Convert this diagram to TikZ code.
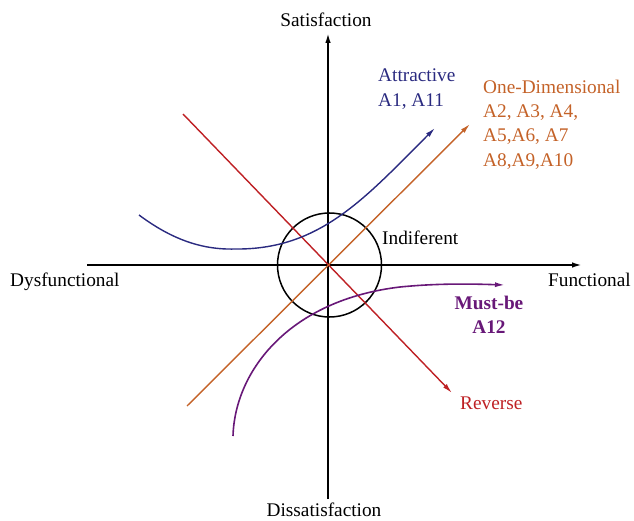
\documentclass[tikz,border=0pt]{standalone}
\usepackage{fontspec}
\setmainfont{Liberation Serif}
\usetikzlibrary{arrows.meta}
\definecolor{cnavy}{RGB}{42,42,128}
\definecolor{corange}{RGB}{196,98,40}
\definecolor{cred}{RGB}{190,32,36}
\definecolor{cpurple}{RGB}{104,24,120}
\begin{document}
\begin{tikzpicture}[x=1pt,y=-1pt,
  lbl/.style={inner sep=0pt,font=\fontsize{19.3}{24.3}\selectfont},
  axis/.style={line width=1.8pt,-{Latex[length=10pt,width=5.5pt]}},
  ray/.style={line width=1.4pt,-{Latex[length=10pt,width=5pt]}},
]
\useasboundingbox (0,0) rectangle (634,521);
% axes
\coordinate (xl) at (87,265);
\coordinate (xr) at (582,265);
\coordinate (yb) at (328,499);
\coordinate (yt) at (328,33);
\draw[axis] (xl) -- (xr);
\draw[axis] (yb) -- (yt);
% indifferent circle
\node[draw,line width=1.5pt,circle,minimum size=104pt,inner sep=0pt] (circ) at (329.5,265) {};
% reverse
\coordinate (r0) at (183,114);
\coordinate (r1) at (452,393);
\draw[ray,cred] (r0) -- (r1);
% one-dimensional
\coordinate (o0) at (187,406);
\coordinate (o1) at (470,124);
\draw[ray,corange] (o0) -- (o1);
% attractive
\coordinate (a0) at (139,215);
\coordinate (am) at (235,249);
\coordinate (a1) at (435,128);
\draw[ray,cnavy] (a0) .. controls (170,238) and (200,250) .. (am)
  .. controls (320,250) and (365,198) .. (a1);
% must-be
\coordinate (m0) at (233,436);
\coordinate (mm) at (400,287);
\coordinate (m1) at (505,285);
\draw[ray,cpurple,line width=1.6pt] (m0) .. controls (235,370) and (290,300) .. (mm)
  .. controls (440,283) and (475,284) .. (m1);
% labels
\node[lbl,anchor=base] (sat) at (326,27) {Satisfaction};
\node[lbl,anchor=base] (dis) at (324,516) {Dissatisfaction};
\node[lbl,anchor=base west] (dys) at (10,287) {Dysfunctional};
\node[lbl,anchor=base west] (fun) at (548,287) {Functional};
\node[lbl,anchor=base west,text=cnavy] (att) at (378,82)
  {\begin{tabular}[t]{@{}l@{}}Attractive\\A1, A11\end{tabular}};
\node[lbl,anchor=base west,text=corange] (one) at (483,93.3)
  {\begin{tabular}[t]{@{}l@{}}One-Dimensional\\A2, A3, A4,\\A5,A6, A7\\A8,A9,A10\end{tabular}};
\node[lbl,anchor=base west] (ind) at (382,244) {Indiferent};
\node[lbl,anchor=base,text=cpurple,font=\fontsize{19.3}{24.3}\selectfont\bfseries] (must) at (489,309)
  {\begin{tabular}[t]{@{}c@{}}Must-be\\A12\end{tabular}};
\node[lbl,anchor=base west,text=cred] (rev) at (460,409) {Reverse};
\end{tikzpicture}
\end{document}
